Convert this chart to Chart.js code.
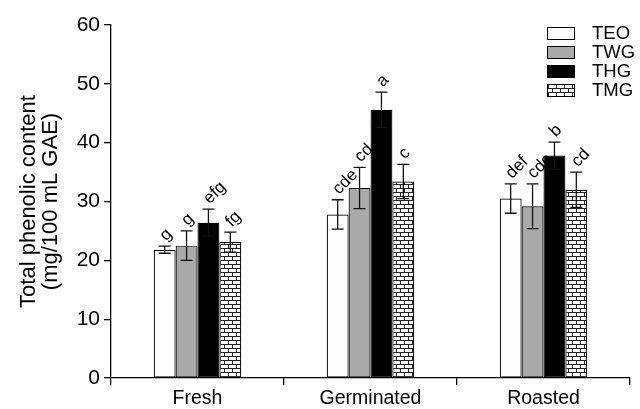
<!DOCTYPE html>
<html>
<head>
<meta charset="utf-8">
<script src="https://cdn.jsdelivr.net/npm/chart.js@4"></script>
<style>
  html, body { margin: 0; padding: 0; background: #fff; }
  #wrap { width: 640px; height: 409px; }
</style>
</head>
<body>
<div id="wrap"><canvas id="chart"></canvas></div>
<script>
// Data
const categories = ["Fresh", "Germinated", "Roasted"];
const seriesNames = ["TEO", "TWG", "THG", "TMG"];
const teoValues = [21.8, 27.8, 30.5];
const twgValues = [22.5, 32.3, 29.2];
const thgValues = [26.4, 45.6, 37.8];
const tmgValues = [23.1, 33.4, 32.0];
const teoErr = [0.6, 2.5, 2.5];
const twgErr = [2.5, 3.5, 3.8];
const thgErr = [2.3, 3.0, 2.3];
const tmgErr = [1.7, 2.9, 3.0];
const teoLetters = ["g", "cde", "def"];
const twgLetters = ["g", "cd", "cde"];
const thgLetters = ["efg", "a", "b"];
const tmgLetters = ["fg", "c", "cd"];
const yTicks = [0, 10, 20, 30, 40, 50, 60];

const FONT = "'Liberation Sans', Arial, sans-serif";

// brick hatch for TMG
function brickPattern() {
    const c = document.createElement("canvas");
    c.width = 8; c.height = 8;
    const g = c.getContext("2d");
    g.fillStyle = "#fff";
    g.fillRect(0, 0, 8, 8);
    g.strokeStyle = "#222";
    g.lineWidth = 1;
    g.beginPath();
    g.moveTo(0, 0.5); g.lineTo(8, 0.5);
    g.moveTo(0, 4.5); g.lineTo(8, 4.5);
    g.moveTo(0.5, 0); g.lineTo(0.5, 4.5);
    g.moveTo(4.5, 4.5); g.lineTo(4.5, 8);
    g.stroke();
    return g.createPattern(c, "repeat");
}

const ctx = document.getElementById("chart").getContext("2d");
const brick = brickPattern();

const errors = [teoErr, twgErr, thgErr, tmgErr];
const letters = [teoLetters, twgLetters, thgLetters, tmgLetters];
const fills = ["#fdfdfd", "#aaaaaa", "#000000", brick];

// error bars + significance letters
const errorBarPlugin = {
    id: "errorBars",
    afterDatasetsDraw(chart) {
        const c = chart.ctx;
        const y = chart.scales.y;
        chart.data.datasets.forEach((ds, i) => {
            const meta = chart.getDatasetMeta(i);
            meta.data.forEach((bar, j) => {
                const v = ds.data[j];
                const e = errors[i][j];
                const top = y.getPixelForValue(v + e);
                const bot = y.getPixelForValue(v - e);
                c.save();
                c.strokeStyle = "#111";
                c.lineWidth = 1.3;
                c.beginPath();
                c.moveTo(bar.x, top); c.lineTo(bar.x, bot);
                c.moveTo(bar.x - 6, top); c.lineTo(bar.x + 6, top);
                c.moveTo(bar.x - 6, bot); c.lineTo(bar.x + 6, bot);
                c.stroke();
                c.translate(bar.x - 2, top - 8);
                c.rotate(-Math.PI / 4);
                c.fillStyle = "#000";
                c.font = "17px " + FONT;
                c.textAlign = "left";
                c.textBaseline = "middle";
                c.fillText(letters[i][j], 0, 0);
                c.restore();
            });
        });
    }
};

// legend box in the top right corner
const legendPlugin = {
    id: "cornerLegend",
    afterDraw(chart) {
        const c = chart.ctx;
        chart.data.datasets.forEach((ds, i) => {
            const yy = 27 + i * 19;
            c.save();
            c.fillStyle = ds.backgroundColor;
            c.fillRect(547, yy, 28, 13);
            c.strokeStyle = "#000";
            c.lineWidth = 1;
            c.strokeRect(547.5, yy + 0.5, 27, 12);
            c.fillStyle = "#000";
            c.font = "18.5px " + FONT;
            c.textAlign = "left";
            c.textBaseline = "middle";
            c.fillText(ds.label, 592, yy + 7);
            c.restore();
        });
    }
};

const valueSets = [teoValues, twgValues, thgValues, tmgValues];

new Chart(ctx, {
    type: "bar",
    data: {
        labels: categories,
        datasets: seriesNames.map((name, i) => ({
            label: name,
            data: valueSets[i],
            backgroundColor: fills[i],
            borderColor: "#000",
            borderWidth: 1.2,
            borderSkipped: false,
            categoryPercentage: 0.506,
            barPercentage: 1.0
        }))
    },
    options: {
        responsive: true,
        maintainAspectRatio: false,
        animation: false,
        layout: { padding: { top: 25, right: 10, left: 0, bottom: 0 } },
        plugins: {
            legend: { display: false },
            tooltip: { enabled: false }
        },
        scales: {
            x: {
                grid: { drawOnChartArea: false, color: "#000", tickLength: 7, lineWidth: 1.3 },
                border: { color: "#000", width: 1.3 },
                ticks: { color: "#000", font: { family: FONT, size: 19.5 }, padding: 2 },
                afterFit(scale) { scale.height = 31; }
            },
            y: {
                min: 0,
                max: 60,
                afterBuildTicks(scale) { scale.ticks = yTicks.map(v => ({ value: v })); },
                grid: { drawOnChartArea: false, color: "#000", tickLength: 7, lineWidth: 1.3 },
                border: { color: "#000", width: 1.3 },
                ticks: { color: "#000", font: { family: FONT, size: 21 }, padding: 4 },
                title: {
                    display: true,
                    text: ["Total phenolic content", "(mg/100 mL GAE)"],
                    color: "#000",
                    font: { family: FONT, size: 22, lineHeight: 1.0 },
                    padding: { top: 18, bottom: 0 }
                },
                afterFit(scale) { scale.width = 111; }
            }
        }
    },
    plugins: [errorBarPlugin, legendPlugin]
});
</script>
</body>
</html>
